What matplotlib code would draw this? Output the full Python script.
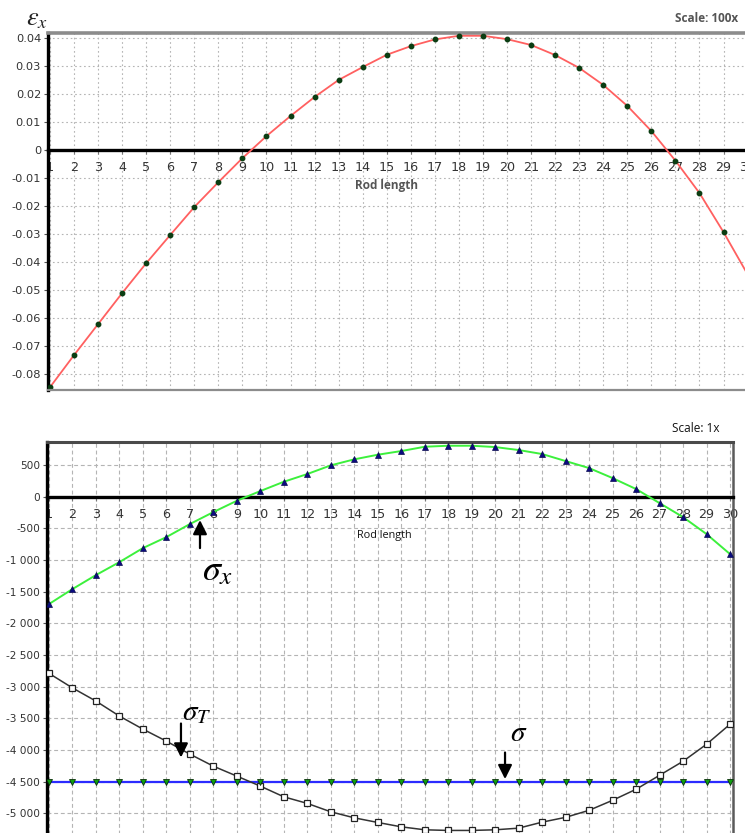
import matplotlib
matplotlib.use("Agg")
import matplotlib.pyplot as plt
from matplotlib import font_manager
from matplotlib.ticker import FuncFormatter, FixedLocator

plt.rcParams['axes.unicode_minus'] = False
plt.rcParams['mathtext.fontset'] = 'stix'

# ---- data -------------------------------------------------------------
rod_pos = list(range(1, 31))

strain_x = [-0.0849, -0.0734, -0.0623, -0.0512, -0.0405, -0.0304, -0.0204,
            -0.0115, -0.0029, 0.0050, 0.0122, 0.0190, 0.0251, 0.0297, 0.0341,
            0.0372, 0.0396, 0.0409, 0.0409, 0.0397, 0.0376, 0.0340, 0.0294,
            0.0233, 0.0158, 0.0068, -0.0038, -0.0154, -0.0294, -0.0445]

stress_x = [-1695, -1458, -1237, -1032, -811, -637, -431, -242, -63, 90,
            237, 359, 496, 591, 664, 722, 790, 806, 806, 785,
            738, 675, 564, 453, 295, 122, -100, -321, -589, -905]

stress_T = [-2790, -3020, -3228, -3465, -3671, -3861, -4066, -4256, -4413, -4571,
            -4740, -4844, -4977, -5072, -5145, -5214, -5261, -5271, -5271, -5261,
            -5235, -5140, -5064, -4953, -4795, -4621, -4400, -4179, -3910, -3594]

stress = [-4500] * 30

strain_ticks = [0.04, 0.03, 0.02, 0.01, 0, -0.01, -0.02, -0.03, -0.04,
                -0.05, -0.06, -0.07, -0.08]
stress_ticks = [500, 0, -500, -1000, -1500, -2000, -2500, -3000, -3500,
                -4000, -4500, -5000]

# ---- fonts -------------------------------------------------------------
available = {f.name for f in font_manager.fontManager.ttflist}
narrow = 'Liberation Sans Narrow' if 'Liberation Sans Narrow' in available else 'DejaVu Sans'
label_font = 'Open Sans' if 'Open Sans' in available else 'DejaVu Sans'

W, H = 745, 833
fig = plt.figure(figsize=(W / 100, H / 100), dpi=100)


def axes_px(left, top, right, bottom):
    return fig.add_axes([left / W, 1 - bottom / H, (right - left) / W, (bottom - top) / H])


def style_common(ax, grid_ls):
    ax.set_xticks(rod_pos)
    ax.grid(True, which='major', color='#b4b4b4', linestyle=grid_ls, linewidth=0.8)
    ax.set_axisbelow(True)
    ax.spines['bottom'].set_position(('data', 0))
    ax.spines['bottom'].set_color('black')
    ax.spines['bottom'].set_linewidth(2.4)
    ax.spines['left'].set_color('black')
    ax.spines['left'].set_linewidth(2.4)
    ax.tick_params(axis='x', direction='out', length=3, width=0.8, color='#777777',
                   pad=5, labelsize=9.2, labelcolor='#333333')
    ax.tick_params(axis='y', direction='out', length=3, width=0.8, color='#555555',
                   pad=2, labelcolor='#333333')
    for lab in ax.get_xticklabels():
        lab.set_fontfamily(narrow)


# ---- strain panel ----------------------------------------------------
ax1 = axes_px(48, 33, 750, 390)
ax1.set_xlim(0.917, 30.1)
ax1.set_ylim(-0.0859, 0.0419)
style_common(ax1, (0, (1.5, 2.5)))
ax1.yaxis.set_major_locator(FixedLocator(strain_ticks))
ax1.yaxis.set_major_formatter(FuncFormatter(lambda v, p: '0' if abs(v) < 1e-9 else f'{v:.2f}'))
ax1.tick_params(axis='y', labelsize=8.2)
ax1.spines['top'].set_color('#8c8c8c')
ax1.spines['top'].set_linewidth(2.6)
ax1.spines['right'].set_visible(False)
ax1.plot([0, 1], [0, 0], transform=ax1.transAxes, color='#8c8c8c', lw=1.6,
         clip_on=False, zorder=5)

ax1.plot(rod_pos, strain_x, color='#ff6060', lw=1.3, zorder=3)
ax1.plot(rod_pos, strain_x, linestyle='none', marker='o', markersize=3.2,
         markerfacecolor='#0b3d12', markeredgecolor='#0b3d12', zorder=4)

ax1.text(15.0, -0.0127, 'Rod length', ha='center', va='center', fontsize=8.5,
         fontweight='bold', color='#555555', family=label_font)
fig.text(738 / W, 1 - 19 / H, 'Scale: 100x', ha='right', va='center', fontsize=8.5,
         fontweight='bold', color='#555555', family=label_font)
fig.text(26 / W, 1 - 25 / H, r'$\varepsilon_x$', ha='left', va='baseline',
         fontsize=19, color='#222222')

# ---- stress panel ----------------------------------------------------
ax2 = axes_px(47, 442, 733, 838.6)
ax2.set_xlim(0.915, 30.128)
ax2.set_ylim(-5400, 865)
style_common(ax2, (0, (3.5, 2.5)))
ax2.yaxis.set_major_locator(FixedLocator(stress_ticks))
ax2.yaxis.set_major_formatter(FuncFormatter(lambda v, p: f'{v:,.0f}'.replace(',', ' ')))
ax2.tick_params(axis='y', labelsize=7.6)
ax2.spines['top'].set_color('#4a4a4a')
ax2.spines['top'].set_linewidth(2.2)
ax2.spines['right'].set_color('#5a5a5a')
ax2.spines['right'].set_linewidth(1.8)

ax2.plot(rod_pos, stress, color='#2b2bff', lw=1.6, zorder=3)
ax2.plot(rod_pos, stress, linestyle='none', marker='v', markersize=4.2,
         markerfacecolor='#0fa00f', markeredgecolor='#0a300a', markeredgewidth=0.6, zorder=4)
ax2.plot(rod_pos, stress_T, color='#333333', lw=1.1, zorder=3,
         marker='s', markersize=4.6, markerfacecolor='white',
         markeredgecolor='#222222', markeredgewidth=0.9)
ax2.plot(rod_pos, stress_x, color='#3cf03c', lw=1.4, zorder=3)
ax2.plot(rod_pos, stress_x, linestyle='none', marker='^', markersize=4.4,
         markerfacecolor='#0a0a80', markeredgecolor='#0a0a50', markeredgewidth=0.5, zorder=4)

ax2.text(15.3, -610, 'Rod length', ha='center', va='center', fontsize=7.8,
         color='#111111', family=label_font)
fig.text(720 / W, 1 - 428 / H, 'Scale: 1x', ha='right', va='center', fontsize=8.5,
         color='#111111', family=label_font)

arrow = dict(arrowstyle='-|>,head_length=0.6,head_width=0.3', lw=1.6,
             color='black', mutation_scale=14, shrinkA=0, shrinkB=0)
ax2.annotate('', xy=(7.43, -368), xytext=(7.43, -811), arrowprops=arrow, zorder=6)
ax2.annotate('', xy=(6.62, -4119), xytext=(6.62, -3582), arrowprops=arrow, zorder=6)
ax2.annotate('', xy=(20.42, -4460), xytext=(20.42, -4040), arrowprops=arrow, zorder=6)

ax2.text(7.52, -1316, r'$\sigma_x$', ha='left', va='baseline', fontsize=26, zorder=6)
ax2.text(6.66, -3530, r'$\sigma_T$', ha='left', va='baseline', fontsize=21, zorder=6)
ax2.text(20.63, -3860, r'$\sigma$', ha='left', va='baseline', fontsize=21, zorder=6)

fig.savefig('out.png', dpi=100, facecolor='white')
